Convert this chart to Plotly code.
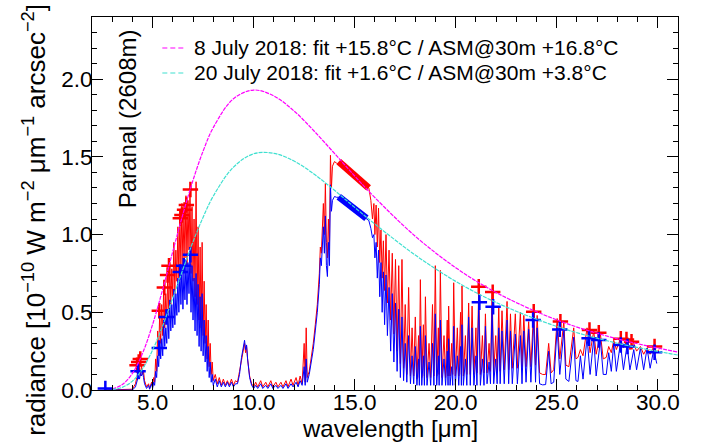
import plotly.graph_objects as go

# ---------------- data ----------------
bb_x = [3.0, 3.5, 4.0, 4.5, 5.0, 5.5, 6.0, 6.5, 7.0, 7.5, 8.0, 9.0, 10.0, 11.0, 12.0,
        13.0, 14.0, 15.0, 16.0, 18.0, 20.0, 22.0, 25.0, 28.0, 31.0]
bb_jul08 = [0.007, 0.035, 0.107, 0.236, 0.422, 0.648, 0.892, 1.132, 1.35, 1.538, 1.688,
            1.874, 1.93, 1.892, 1.795, 1.665, 1.522, 1.377, 1.238, 0.989, 0.787, 0.627,
            0.451, 0.329, 0.244]
bb_jul20 = [0.003, 0.017, 0.057, 0.136, 0.257, 0.414, 0.593, 0.776, 0.954, 1.112, 1.247,
            1.434, 1.52, 1.523, 1.473, 1.388, 1.285, 1.175, 1.068, 0.868, 0.699, 0.563,
            0.409, 0.301, 0.225]

red_x = [2.6, 4.0, 4.15, 4.25, 4.3, 4.35, 4.4, 4.45, 4.5, 4.55, 4.6, 4.7, 4.8, 4.85, 4.95,
         5.0, 5.05, 5.1, 5.15, 5.2, 5.25, 5.3, 5.35, 5.4, 5.45, 5.5, 5.55, 5.6, 5.65, 5.7,
         5.75, 5.8, 5.85, 5.9, 5.95, 6.0, 6.05, 6.1, 6.15, 6.2, 6.25, 6.3, 6.35, 6.4, 6.45,
         6.5, 6.55, 6.6, 6.65, 6.7, 6.75, 6.8, 6.85, 6.9, 6.95, 7.0, 7.05, 7.1, 7.15, 7.2,
         7.25, 7.3, 7.35, 7.4, 7.45, 7.5, 7.55, 7.6, 7.65, 7.7, 7.75, 7.8, 7.85, 7.9, 7.95,
         8.0, 8.1, 8.2, 8.3, 8.4, 8.5, 8.6, 8.7, 8.8, 8.9, 9.0, 9.1, 9.2, 9.3, 9.4, 9.5,
         9.55, 9.6, 9.65, 9.7, 9.8, 9.9, 10.0, 10.1, 10.2, 10.35, 10.45, 10.6, 10.7, 10.85,
         10.95, 11.1, 11.2, 11.35, 11.45, 11.6, 11.7, 11.85, 11.95, 12.1, 12.2, 12.3, 12.4,
         12.5, 12.55, 12.6, 12.65, 12.75, 12.85, 12.95, 13.05, 13.15, 13.25, 13.3, 13.35,
         13.4, 13.45, 13.5, 13.55, 13.6, 13.65, 13.7, 13.75, 13.8, 13.85, 13.9, 14.0, 14.1,
         14.2, 14.5, 15.0, 15.5, 15.7, 15.8, 15.88, 15.95, 16.0, 16.06, 16.12, 16.18, 16.24,
         16.3, 16.36, 16.42, 16.48, 16.55, 16.62, 16.7, 16.78, 16.86, 16.94, 17.02, 17.1,
         17.18, 17.26, 17.34, 17.42, 17.5, 17.58, 17.67, 17.76, 17.84, 17.92, 18.0, 18.08,
         18.16, 18.2, 18.25, 18.32, 18.4, 18.45, 18.5, 18.58, 18.68, 18.76, 18.85, 18.92,
         18.99, 19.06, 19.14, 19.18, 19.24, 19.32, 19.42, 19.5, 19.58, 19.62, 19.65, 19.72,
         19.8, 19.85, 19.9, 19.98, 20.08, 20.15, 20.24, 20.28, 20.31, 20.38, 20.48, 20.55,
         20.64, 20.72, 20.81, 20.9, 21.0, 21.05, 21.14, 21.22, 21.32, 21.4, 21.47, 21.55,
         21.65, 21.72, 21.8, 21.88, 21.98, 22.05, 22.13, 22.2, 22.29, 22.4, 22.54, 22.62,
         22.71, 22.8, 22.95, 23.05, 23.2, 23.28, 23.37, 23.48, 23.61, 23.72, 23.86, 23.95,
         24.03, 24.15, 24.3, 24.45, 24.6, 24.72, 24.85, 25.02, 25.15, 25.35, 25.45, 25.6,
         25.84, 25.95, 26.05, 26.17, 26.3, 26.5, 26.65, 26.83, 26.95, 27.16, 27.3, 27.45,
         27.57, 27.7, 27.82, 27.95, 28.15, 28.3, 28.48, 28.62, 28.81, 28.95, 29.14, 29.3,
         29.47, 29.62, 29.8, 29.95, 30.05]
red_y = [0.0, 0.005, 0.04, 0.10, 0.07, 0.14, 0.09, 0.16, 0.10, 0.12, 0.06, 0.02, 0.04, 0.01, 0.05,
         0.02, 0.08, 0.05, 0.20, 0.12, 0.38, 0.22, 0.50, 0.30, 0.55, 0.35, 0.68, 0.40, 0.62, 0.45,
         0.75, 0.50, 0.82, 0.55, 0.78, 0.60, 0.95, 0.62, 0.90, 0.70, 1.05, 0.72, 1.12, 0.80, 1.20,
         0.78, 1.15, 0.85, 1.25, 0.80, 1.22, 0.90, 1.30, 0.75, 1.18, 0.70, 1.10, 0.60, 1.34, 0.55,
         1.05, 0.45, 0.92, 0.40, 0.95, 0.35, 0.70, 0.30, 0.55, 0.20, 0.45, 0.15, 0.30, 0.10, 0.18,
         0.06, 0.10, 0.04, 0.08, 0.03, 0.07, 0.03, 0.06, 0.03, 0.07, 0.03, 0.06, 0.05, 0.12, 0.20, 0.26,
         0.30, 0.24, 0.28, 0.20, 0.09, 0.04, 0.02, 0.05, 0.02, 0.06, 0.02, 0.05, 0.02, 0.06,
         0.02, 0.05, 0.02, 0.05, 0.02, 0.06, 0.02, 0.07, 0.03, 0.08, 0.03, 0.09, 0.04,
         0.30, 0.05, 0.40, 0.08, 0.12, 0.20, 0.30, 0.42, 0.55, 0.75, 0.92, 0.88,
         1.05, 1.20, 1.00, 1.33, 0.95, 0.85, 1.10, 0.90, 1.51, 1.30, 1.44, 1.47, 1.46,
         1.45, 1.42, 1.38, 1.33, 1.30, 1.22, 1.10, 1.20, 1.00, 1.19, 0.92, 1.17, 0.82,
         1.03, 0.72, 0.96, 0.64, 1.00, 0.56, 0.90, 0.45, 0.88, 0.36, 0.84, 0.25,
         0.80, 0.17, 0.84, 0.14, 0.55, 0.10, 0.66, 0.09, 0.40, 0.09, 0.47, 0.07,
         0.35, 0.08, 0.71, 0.08, 0.42, 0.09, 0.60, 0.08, 0.30, 0.08, 0.55, 0.09,
         0.80, 0.09, 0.40, 0.10, 0.77, 0.08, 0.35, 0.08, 0.45, 0.09, 0.54, 0.09,
         0.30, 0.10, 0.69, 0.09, 0.40, 0.09, 0.50, 0.10, 0.67, 0.09, 0.35, 0.10,
         0.56, 0.10, 0.54, 0.10, 0.40, 0.11, 0.66, 0.10, 0.35, 0.11, 0.49, 0.11,
         0.30, 0.12, 0.64, 0.11, 0.35, 0.12, 0.54, 0.12, 0.51, 0.13, 0.57, 0.13,
         0.49, 0.14, 0.49, 0.14, 0.50, 0.15, 0.48, 0.15, 0.44, 0.15, 0.53, 0.16,
         0.48, 0.11, 0.10, 0.10, 0.30, 0.11, 0.13, 0.46, 0.20, 0.44, 0.16, 0.15,
         0.40, 0.20, 0.21, 0.26, 0.22, 0.40, 0.24, 0.38, 0.23, 0.36, 0.20, 0.21,
         0.28, 0.24, 0.32, 0.26, 0.33, 0.27, 0.32, 0.26, 0.30, 0.25, 0.28, 0.23,
         0.27, 0.23, 0.28, 0.24, 0.26]

blue_x = red_x[:-1]
blue_y = [0.0, 0.0, 0.02, 0.06, 0.09, 0.07, 0.11, 0.09, 0.12, 0.08, 0.04, 0.01, 0.03, 0.005, 0.04,
          0.01, 0.05, 0.03, 0.12, 0.08, 0.22, 0.15, 0.30, 0.20, 0.33, 0.22, 0.45, 0.28, 0.40, 0.30,
          0.52, 0.33, 0.58, 0.38, 0.55, 0.40, 0.65, 0.42, 0.62, 0.48, 0.72, 0.50, 0.78, 0.55, 0.80,
          0.52, 0.76, 0.58, 0.84, 0.55, 0.82, 0.62, 0.88, 0.50, 0.80, 0.45, 0.72, 0.38, 0.75, 0.35,
          0.68, 0.28, 0.60, 0.25, 0.62, 0.22, 0.45, 0.18, 0.35, 0.12, 0.28, 0.08, 0.18, 0.05, 0.10,
          0.03, 0.07, 0.02, 0.06, 0.02, 0.05, 0.02, 0.05, 0.02, 0.05, 0.02, 0.04, 0.04, 0.10, 0.21, 0.28,
          0.32, 0.26, 0.29, 0.20, 0.08, 0.03, 0.01, 0.03, 0.01, 0.04, 0.01, 0.03, 0.01, 0.04,
          0.01, 0.03, 0.01, 0.03, 0.01, 0.04, 0.01, 0.04, 0.02, 0.05, 0.02, 0.06, 0.03,
          0.15, 0.03, 0.20, 0.05, 0.10, 0.17, 0.26, 0.38, 0.50, 0.68, 0.85, 0.80,
          0.95, 1.05, 0.88, 1.12, 0.80, 0.73, 0.95, 0.80, 1.32, 1.15, 1.22, 1.245, 1.24,
          1.24, 1.21, 1.16, 1.11, 1.09, 1.04, 0.98, 1.00, 0.85, 0.95, 0.72, 0.90, 0.60,
          0.82, 0.50, 0.76, 0.42, 0.74, 0.35, 0.66, 0.25, 0.62, 0.18, 0.56, 0.12,
          0.52, 0.08, 0.47, 0.06, 0.30, 0.05, 0.35, 0.04, 0.22, 0.04, 0.28, 0.03,
          0.20, 0.03, 0.41, 0.03, 0.22, 0.03, 0.35, 0.03, 0.18, 0.03, 0.30, 0.03,
          0.49, 0.03, 0.22, 0.03, 0.45, 0.03, 0.20, 0.03, 0.25, 0.03, 0.33, 0.03,
          0.15, 0.03, 0.41, 0.03, 0.22, 0.03, 0.28, 0.03, 0.42, 0.03, 0.20, 0.03,
          0.47, 0.03, 0.40, 0.03, 0.22, 0.03, 0.56, 0.03, 0.20, 0.03, 0.41, 0.04,
          0.18, 0.04, 0.54, 0.04, 0.20, 0.04, 0.40, 0.04, 0.38, 0.04, 0.45, 0.04,
          0.38, 0.04, 0.36, 0.04, 0.35, 0.04, 0.38, 0.05, 0.39, 0.05, 0.45, 0.05,
          0.40, 0.04, 0.033, 0.035, 0.25, 0.04, 0.05, 0.40, 0.10, 0.38, 0.07, 0.055,
          0.34, 0.06, 0.055, 0.22, 0.07, 0.34, 0.10, 0.33, 0.09, 0.32, 0.10, 0.10,
          0.24, 0.12, 0.30, 0.12, 0.30, 0.13, 0.29, 0.13, 0.26, 0.13, 0.27, 0.13,
          0.27, 0.14, 0.26, 0.17]

red_mk_x = [4.23, 4.31, 4.39, 5.33, 5.58, 5.74, 5.81, 6.37, 6.45, 6.58, 6.67, 6.87,
            21.14, 21.83, 23.86, 25.18, 26.62, 27.08, 28.17, 28.45, 28.7, 29.84]
red_mk_y = [0.16, 0.18, 0.20, 0.51, 0.66, 0.74, 0.80, 1.105, 1.126, 1.159, 1.19, 1.29,
            0.665, 0.63, 0.504, 0.44, 0.386, 0.369, 0.33, 0.325, 0.31, 0.28]
blue_mk_x = [2.66, 4.28, 5.33, 5.68, 6.37, 6.54, 6.87,
             21.17, 21.85, 23.83, 25.15, 26.6, 27.08, 28.17, 28.5, 29.84]
blue_mk_y = [0.01, 0.12, 0.27, 0.47, 0.76, 0.80, 0.87,
             0.565, 0.536, 0.45, 0.39, 0.333, 0.322, 0.29, 0.28, 0.243]

co2_red_x = [14.21, 14.7, 15.2, 15.69]
co2_red_y = [1.47, 1.415, 1.36, 1.30]
co2_blue_x = [14.21, 14.7, 15.2, 15.58]
co2_blue_y = [1.244, 1.195, 1.145, 1.105]

legend_names = ["8 July 2018: fit +15.8°C / ASM@30m +16.8°C",
                "20 July 2018: fit +1.6°C / ASM@30m +3.8°C"]

RED, BLUE, MAG, CYAN = "#ff0000", "#0000ff", "#ff00ff", "#40e0d0"
FONT = "Liberation Sans"

fig = go.Figure()
fig.add_trace(go.Scatter(x=red_x, y=red_y, mode="lines", line=dict(color=RED, width=1),
                         showlegend=False))
fig.add_trace(go.Scatter(x=blue_x, y=blue_y, mode="lines", line=dict(color=BLUE, width=1),
                         showlegend=False))
fig.add_trace(go.Scatter(x=co2_red_x, y=co2_red_y, mode="lines",
                         line=dict(color=RED, width=7), showlegend=False))
fig.add_trace(go.Scatter(x=co2_blue_x, y=co2_blue_y, mode="lines",
                         line=dict(color=BLUE, width=7), showlegend=False))
fig.add_trace(go.Scatter(x=red_mk_x, y=red_mk_y, mode="markers",
                         marker=dict(symbol="cross-thin", size=11, color=RED,
                                     line=dict(color=RED, width=2.5)), showlegend=False))
fig.add_trace(go.Scatter(x=blue_mk_x, y=blue_mk_y, mode="markers",
                         marker=dict(symbol="cross-thin", size=11, color=BLUE,
                                     line=dict(color=BLUE, width=2.5)), showlegend=False))
fig.add_trace(go.Scatter(x=bb_x, y=bb_jul08, mode="lines", name=legend_names[0],
                         showlegend=False,
                         line=dict(color=MAG, width=1.2, dash="4px,1px", shape="spline")))
fig.add_trace(go.Scatter(x=bb_x, y=bb_jul20, mode="lines", name=legend_names[1],
                         showlegend=False,
                         line=dict(color=CYAN, width=1.2, dash="4px,1px", shape="spline")))

axis_common = dict(showline=True, linecolor="black", linewidth=1, mirror="allticks",
                   ticks="inside", ticklen=11, tickwidth=1, tickcolor="black",
                   showgrid=False, zeroline=False, tickformat=".1f",
                   tickfont=dict(family=FONT, size=22.5, color="black"))
fig.update_xaxes(range=[2, 31], tickmode="linear", tick0=0, dtick=5, ticklabelstandoff=-8,
                 minor=dict(ticks="inside", ticklen=5, dtick=1, tick0=0, tickcolor="black"),
                 **axis_common)
fig.update_yaxes(range=[0, 2.4], tickmode="linear", tick0=0, dtick=0.5, ticklabelstandoff=-6,
                 minor=dict(ticks="inside", ticklen=5, dtick=0.1, tick0=0, tickcolor="black"),
                 **axis_common)

# manual legend (dashed samples + labels)
leg_x0, leg_x1, leg_tx = 0.12, 0.1558, 0.170
leg_rows = [0.9169, 0.8499]
leg_colors = [MAG, CYAN]
shapes = [dict(type="line", xref="paper", yref="paper", x0=leg_x0, x1=leg_x1, y0=yy, y1=yy,
               line=dict(color=c, width=1.2, dash="5px,3px"))
          for yy, c in zip(leg_rows, leg_colors)]
annotations = [dict(text=nm, x=leg_tx, y=yy, xref="paper", yref="paper", showarrow=False,
                    xanchor="left", yanchor="middle", font=dict(family=FONT, size=21))
               for nm, yy in zip(legend_names, leg_rows)]
annotations += [
    dict(text="Paranal (2608m)", textangle=-90, x=0.0602, y=0.7265, xref="paper",
         yref="paper", showarrow=False, font=dict(family=FONT, size=24),
         xanchor="center", yanchor="middle"),
    dict(text="wavelength [μm]", x=0.509, y=-0.104, xref="paper", yref="paper",
         showarrow=False, font=dict(family=FONT, size=24), xanchor="center",
         yanchor="middle"),
    dict(text="radiance [10<sup>−10</sup> W m<sup>−2</sup> μm<sup>−1</sup> arcsec<sup>−2</sup>]",
         textangle=-90, x=-0.098, y=0.455, xref="paper", yref="paper", showarrow=False,
         font=dict(family=FONT, size=26), xanchor="center", yanchor="middle"),
]

fig.update_layout(
    width=703, height=445,
    margin=dict(l=92, r=25, t=17, b=55),
    plot_bgcolor="white", paper_bgcolor="white",
    font=dict(family=FONT, color="black"),
    showlegend=False,
    shapes=shapes,
    annotations=annotations,
)

fig.write_html("out.html")
